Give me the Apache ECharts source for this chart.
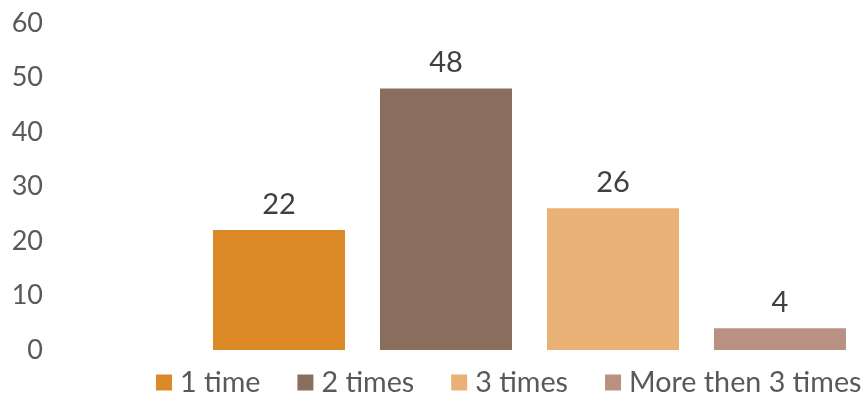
<!DOCTYPE html>
<html>
<head>
<meta charset="utf-8">
<script src="https://cdn.jsdelivr.net/npm/echarts@6/dist/echarts.min.js"></script>
<style>html,body{margin:0;padding:0;background:#fff}#c{width:866px;height:394px}</style>
</head>
<body>
<div id="c"></div>
<script>
const seriesNames = ['1 time', '2 times', '3 times', 'More then 3 times'];
const seriesValues = [22, 48, 26, 4];
const colors = ['#DB8826', '#8B6D5E', '#EAB176', '#B89183'];
const yTicks = { min: 0, max: 60, interval: 10 };

const chart = echarts.init(document.getElementById('c'));
chart.setOption({
  animation: false,
  textStyle: { fontFamily: 'Lato' },
  grid: { left: 193, right: 0, top: 23, bottom: 44 },
  legend: {
    top: 368, left: 156, padding: 0,
    itemWidth: 16, itemHeight: 16, itemGap: 37,
    icon: 'rect',
    textStyle: { fontFamily: 'Lato', fontSize: 28.7, lineHeight: 28, color: '#595959', padding: [0, 0, 0, 3] },
    data: seriesNames
  },
  xAxis: {
    type: 'category', data: [''],
    axisLine: { show: false }, axisTick: { show: false }, axisLabel: { show: false }
  },
  yAxis: {
    type: 'value', min: yTicks.min, max: yTicks.max, interval: yTicks.interval,
    splitLine: { show: false },
    axisLine: { show: false }, axisTick: { show: false },
    axisLabel: { fontFamily: 'Lato', fontSize: 27, color: '#595959', margin: 150 }
  },
  series: seriesNames.map((n, i) => ({
    name: n, type: 'bar', barWidth: 132, barGap: '26.5%',
    data: [seriesValues[i]],
    itemStyle: { color: colors[i] },
    label: { show: true, position: 'top', distance: 11, fontFamily: 'Lato', fontSize: 29, color: '#404040' }
  }))
});
</script>
</body>
</html>
